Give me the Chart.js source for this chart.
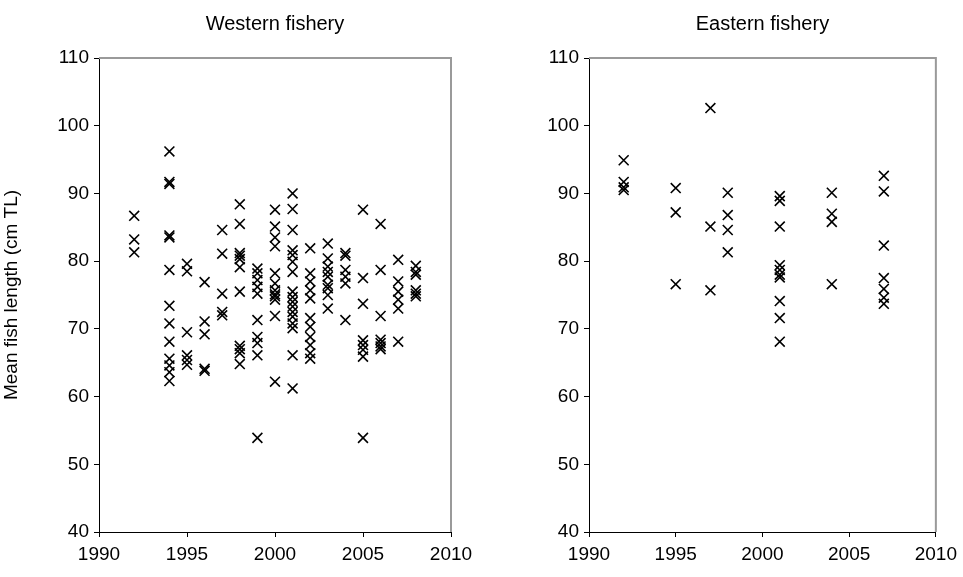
<!DOCTYPE html>
<html>
<head>
<meta charset="utf-8">
<script src="https://cdn.jsdelivr.net/npm/chart.js@4/dist/chart.umd.min.js"></script>
<style>
  html, body { margin: 0; padding: 0; background: #fff; }
  #wrap { position: relative; width: 963px; height: 577px; }
  #west { position: absolute; left: 0; top: 0; }
  #east { position: absolute; left: 481px; top: 0; }
</style>
</head>
<body>
<div id="wrap">
  <canvas id="west" width="481" height="577"></canvas>
  <canvas id="east" width="482" height="577"></canvas>
</div>
<script>
// Mean fish length (cm TL) per sampling event, by year
const westYears = [
  1992, 1992, 1992,
  1994, 1994, 1994, 1994, 1994, 1994, 1994, 1994, 1994, 1994, 1994, 1994, 1994,
  1995, 1995, 1995, 1995, 1995, 1995,
  1996, 1996, 1996, 1996, 1996,
  1997, 1997, 1997, 1997, 1997,
  1998, 1998, 1998, 1998, 1998, 1998, 1998, 1998, 1998, 1998, 1998,
  1999, 1999, 1999, 1999, 1999, 1999, 1999, 1999, 1999, 1999,
  2000, 2000, 2000, 2000, 2000, 2000, 2000, 2000, 2000, 2000, 2000, 2000,
  2001, 2001, 2001, 2001, 2001, 2001, 2001, 2001, 2001, 2001, 2001, 2001, 2001, 2001, 2001, 2001, 2001,
  2002, 2002, 2002, 2002, 2002, 2002, 2002, 2002, 2002, 2002, 2002,
  2003, 2003, 2003, 2003, 2003, 2003, 2003, 2003, 2003,
  2004, 2004, 2004, 2004, 2004, 2004,
  2005, 2005, 2005, 2005, 2005, 2005, 2005, 2005,
  2006, 2006, 2006, 2006, 2006, 2006, 2006,
  2007, 2007, 2007, 2007, 2007, 2007,
  2008, 2008, 2008, 2008, 2008, 2008
];
const westLength = [
  86.7, 83.2, 81.3,
  96.2, 91.7, 91.4, 83.8, 83.5, 78.7, 73.4, 70.8, 68.1, 65.6, 64.6, 63.6, 62.3,
  79.6, 78.5, 69.5, 66.1, 65.4, 64.7,
  76.9, 71.1, 69.2, 64.1, 63.8,
  84.6, 81.1, 75.2, 72.5, 72.0,
  88.4, 85.5, 81.2, 80.8, 80.3, 79.1, 75.5, 67.5, 67.0, 66.4, 64.8,
  78.9, 78.2, 77.2, 76.2, 75.2, 71.3, 68.8, 67.9, 66.1, 53.9,
  87.6, 85.1, 83.5, 82.2, 78.2, 76.7, 75.7, 75.1, 74.8, 74.3, 71.9, 62.2,
  90.0, 87.7, 84.6, 81.6, 80.9, 79.9, 78.4, 75.5, 74.7, 74.0, 73.3, 72.5, 71.8, 70.8, 70.1, 66.1, 61.2,
  81.9, 78.2, 77.0, 75.7, 74.5, 71.6, 70.3, 68.8, 67.6, 66.4, 65.6,
  82.6, 80.4, 79.2, 78.4, 77.7, 76.5, 76.0, 75.0, 73.0,
  81.2, 80.8, 78.7, 77.7, 76.7, 71.3,
  87.6, 77.5, 73.7, 68.3, 67.6, 66.9, 65.9, 53.9,
  85.5, 78.7, 71.9, 68.4, 67.9, 67.4, 67.0,
  80.2, 77.0, 75.5, 74.3, 73.0, 68.1,
  79.3, 78.4, 78.0, 75.7, 75.2, 74.8
];
const eastYears = [
  1992, 1992, 1992, 1992,
  1995, 1995, 1995,
  1997, 1997, 1997,
  1998, 1998, 1998, 1998,
  2001, 2001, 2001, 2001, 2001, 2001, 2001, 2001, 2001, 2001,
  2004, 2004, 2004, 2004,
  2007, 2007, 2007, 2007, 2007, 2007, 2007
];
const eastLength = [
  94.9, 91.7, 90.9, 90.5,
  90.8, 87.2, 76.6,
  102.6, 85.1, 75.7,
  90.1, 86.8, 84.6, 81.3,
  89.6, 88.9, 85.1, 79.4, 78.7, 78.0, 77.6, 74.1, 71.6, 68.1,
  90.1, 87.0, 85.8, 76.6,
  92.6, 90.3, 82.3, 77.5, 75.9, 74.6, 73.7
];
const panelTitles = ['Western fishery', 'Eastern fishery'];
const yAxisTitle = 'Mean fish length (cm TL)';
const xTicks = [1990, 1995, 2000, 2005, 2010];
const yTicks = [40, 50, 60, 70, 80, 90, 100, 110];

const FONT = "'Liberation Sans', Arial, sans-serif";

// gray frame on the top and right edges of the plot area
const frameLines = {
  id: 'frameLines',
  afterDraw(chart) {
    const { ctx, chartArea: a } = chart;
    ctx.save();
    ctx.strokeStyle = '#9a9a9a';
    ctx.lineWidth = 2;
    ctx.beginPath();
    ctx.moveTo(a.left, a.top);
    ctx.lineTo(a.right, a.top);
    ctx.lineTo(a.right, a.bottom);
    ctx.stroke();
    ctx.restore();
  }
};

function makePanel(canvasId, years, lengths, title, yWidth, padRight, showYTitle) {
  const points = years.map((yr, i) => ({ x: yr, y: lengths[i] }));
  return new Chart(document.getElementById(canvasId), {
    type: 'scatter',
    data: {
      datasets: [{
        data: points,
        pointStyle: 'crossRot',
        pointRadius: 7,
        pointHoverRadius: 7,
        borderColor: '#000',
        backgroundColor: '#000',
        pointBorderWidth: 1.6
      }]
    },
    options: {
      responsive: false,
      animation: false,
      events: [],
      layout: { padding: { left: 0, right: padRight, top: 0, bottom: 0 } },
      plugins: {
        legend: { display: false },
        tooltip: { enabled: false },
        title: {
          display: true,
          text: title,
          fullSize: false,
          color: '#000',
          font: { family: FONT, size: 20, weight: 'normal' },
          padding: { top: 12, bottom: 22 }
        }
      },
      scales: {
        x: {
          type: 'linear',
          min: 1990,
          max: 2010,
          afterBuildTicks(s) { s.ticks = xTicks.map(v => ({ value: v })); },
          afterFit(s) { s.height = 45; },
          border: { display: true, color: '#000', width: 1 },
          grid: { display: true, drawOnChartArea: false, drawTicks: true, tickLength: 5, color: '#000' },
          ticks: {
            color: '#000',
            font: { family: FONT, size: 19 },
            padding: 6,
            maxRotation: 0,
            callback: v => String(v)
          }
        },
        y: {
          type: 'linear',
          min: 40,
          max: 110,
          afterBuildTicks(s) { s.ticks = yTicks.map(v => ({ value: v })); },
          afterFit(s) { s.width = yWidth; },
          border: { display: true, color: '#000', width: 1 },
          grid: { display: true, drawOnChartArea: false, drawTicks: true, tickLength: 5, color: '#000' },
          ticks: { color: '#000', font: { family: FONT, size: 19 }, padding: 5, callback: v => String(v) },
          title: {
            display: showYTitle,
            text: yAxisTitle,
            color: '#000',
            font: { family: FONT, size: 19 },
            padding: { top: 0, bottom: 12 }
          }
        }
      }
    },
    plugins: [frameLines]
  });
}

makePanel('west', westYears, westLength, panelTitles[0], 99, 30, true);
makePanel('east', eastYears, eastLength, panelTitles[1], 108, 26, false);
</script>
</body>
</html>
